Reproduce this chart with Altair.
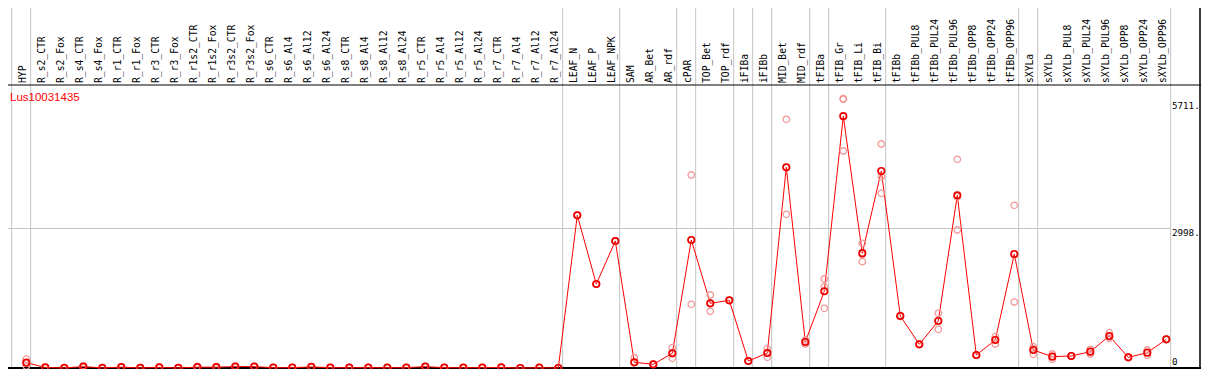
import altair as alt
import pandas as pd

samples = [
    "HYP",
    "R_s2_CTR", "R_s2_Fox", "R_s4_CTR", "R_s4_Fox", "R_r1_CTR", "R_r1_Fox", "R_r3_CTR", "R_r3_Fox",
    "R_r1s2_CTR", "R_r1s2_Fox", "R_r3s2_CTR", "R_r3s2_Fox",
    "R_s6_CTR", "R_s6_Al4", "R_s6_Al12", "R_s6_Al24",
    "R_s8_CTR", "R_s8_Al4", "R_s8_Al12", "R_s8_Al24",
    "R_r5_CTR", "R_r5_Al4", "R_r5_Al12", "R_r5_Al24",
    "R_r7_CTR", "R_r7_Al4", "R_r7_Al12", "R_r7_Al24",
    "LEAF_N", "LEAF_P", "LEAF_NPK",
    "SAM", "AR_Bet", "AR_rdf", "cPAR", "TOP_Bet", "TOP_rdf", "iFIBa", "iFIBb",
    "MID_Bet", "MID_rdf", "tFIBa", "tFIB_Gr", "tFIB_Li", "tFIB_Bi",
    "tFIBb", "tFIBb_PUL8", "tFIBb_PUL24", "tFIBb_PUL96", "tFIBb_OPP8", "tFIBb_OPP24", "tFIBb_OPP96",
    "sXYLa", "sXYLb", "sXYLb_PUL8", "sXYLb_PUL24", "sXYLb_PUL96", "sXYLb_OPP8", "sXYLb_OPP24", "sXYLb_OPP96",
]

means = [
    114,
    12, 2, 30, 2, 18, 2, 12, 2,
    18, 18, 30, 30,
    7, 7, 24, 7,
    7, 7, 7, 7,
    30, 7, 7, 7,
    12, 0, 7, 0,
    3282, 1805, 2729,
    122, 79, 316, 2751, 1390, 1455, 150, 322,
    4313, 559, 1650, 5412, 2468, 4234,
    1118, 509, 1010, 3711, 279, 602, 2450,
    387, 244, 258, 351, 688, 229, 330, 617,
]

rep_a = [
    190,
    18, 6, 48, 6, 24, 6, 18, 6,
    32, 30, 38, 36,
    12, 12, 30, 12,
    12, 12, 12, 12,
    36, 12, 12, 12,
    18, 4, 12, 4,
    3282, 1805, 2729,
    221, 79, 436, 4148, 1569, 1455, 150, 415,
    5345, 602, 1913, 5790, 2679, 4814,
    1130, 509, 1175, 4485, 279, 673, 3496,
    458, 301, 258, 401, 759, 229, 387, 617,
]

rep_b = [
    40,
    6, 0, 14, 0, 12, 0, 6, 0,
    8, 6, 22, 24,
    2, 2, 18, 2,
    2, 2, 2, 2,
    24, 2, 2, 2,
    6, 0, 2, 0,
    3282, 1805, 2729,
    114, 79, 208, 1369, 1219, 1455, 150, 230,
    3303, 516, 1283, 5775, 2285, 4112,
    1105, 509, 831, 2966, 279, 516, 1418,
    294, 186, 258, 301, 637, 229, 273, 617,
]

rep_c = [
    112,
    12, 2, 28, 2, 18, 2, 12, 2,
    14, 18, 30, 30,
    7, 7, 24, 7,
    7, 7, 7, 7,
    30, 7, 7, 7,
    12, 0, 7, 0,
    3282, 1805, 2729,
    122, 79, 316, 2751, 1390, 1455, 150, 322,
    4313, 559, 1748, 4664, 2440, 3754,
    1118, 509, 1024, 3682, 279, 617, 2436,
    409, 245, 258, 351, 668, 229, 330, 617,
]

group_ends = [-1, 0, 28, 31, 34, 35, 37, 38, 39, 41, 42, 45, 52, 53, 60]
y_ticks = [5711, 2998]
y_tick_labels = ["5711.", "2998."]
zero_tick = [0]
zero_label = ["0"]
gene = "Lus10031435"

W, H = 1193, 361
MONO = "DejaVu Sans Mono"

df = pd.DataFrame({"idx": list(range(len(samples))), "sample": samples, "mean": means})
reps = pd.DataFrame({
    "idx": list(range(len(samples))) * 3,
    "val": rep_a + rep_b + rep_c,
})
grid = pd.DataFrame({"pos": [g + 0.23 for g in group_ends]})
yt = pd.DataFrame({"v": y_ticks, "lab": y_tick_labels})
yz = pd.DataFrame({"v": zero_tick, "lab": zero_label})
hl = pd.DataFrame({"v": [2998]})
gl = pd.DataFrame({"t": [gene]})

xs = alt.Scale(domain=[-0.963, 61.826], nice=False, zero=False)
ys = alt.Scale(domain=[-21.5, 7737], nice=False, zero=False)

vgrid = alt.Chart(grid).mark_rule(color="#c4c4c4", strokeWidth=1).encode(
    x=alt.X("pos:Q", scale=xs, axis=None),
    y=alt.value(0), y2=alt.value(H),
)
hgrid = alt.Chart(hl).mark_rule(color="#c4c4c4", strokeWidth=1).encode(
    y=alt.Y("v:Q", scale=ys, axis=None),
    x=alt.value(0), x2=alt.value(1163),
)
header_line = alt.Chart(gl).mark_rule(color="black", strokeWidth=1.2).encode(
    y=alt.value(77), x=alt.value(0), x2=alt.value(W)
)
bottom_line = alt.Chart(gl).mark_rule(color="black", strokeWidth=2).encode(
    y=alt.value(360), x=alt.value(0), x2=alt.value(W)
)
right_line = alt.Chart(gl).mark_rule(color="black", strokeWidth=1.5).encode(
    x=alt.value(W - 1), y=alt.value(0), y2=alt.value(H)
)

header = alt.Chart(df).mark_text(
    angle=270, align="left", baseline="alphabetic", font=MONO, fontSize=9.7, color="black"
).encode(
    x=alt.X("idx:Q", scale=xs, axis=None),
    y=alt.value(75),
    text="sample:N",
)

line = alt.Chart(df).mark_line(color="#ff0000", strokeWidth=1).encode(
    x=alt.X("idx:Q", scale=xs, axis=None),
    y=alt.Y("mean:Q", scale=ys, axis=None),
)
rep_pts = alt.Chart(reps).mark_point(
    shape="circle", filled=False, size=42, strokeWidth=1.3, color="#f29a9a", opacity=1
).encode(
    x=alt.X("idx:Q", scale=xs, axis=None),
    y=alt.Y("val:Q", scale=ys, axis=None),
)
mean_pts = alt.Chart(df).mark_point(
    shape="circle", filled=False, size=42, strokeWidth=1.7, color="#ee0000", opacity=1
).encode(
    x=alt.X("idx:Q", scale=xs, axis=None),
    y=alt.Y("mean:Q", scale=ys, axis=None),
)

ylabels = alt.Chart(yt).mark_text(
    align="left", baseline="top", font=MONO, fontSize=9.2, color="black"
).encode(
    x=alt.value(1164),
    y=alt.Y("v:Q", scale=ys, axis=None),
    text="lab:N",
)
ylabel0 = alt.Chart(yz).mark_text(
    align="left", baseline="alphabetic", font=MONO, fontSize=9.2, color="black", dy=-3
).encode(
    x=alt.value(1164),
    y=alt.Y("v:Q", scale=ys, axis=None),
    text="lab:N",
)
gene_label = alt.Chart(gl).mark_text(
    align="left", baseline="alphabetic", font="Liberation Sans", fontSize=11.5, color="#ff0000"
).encode(
    x=alt.value(2), y=alt.value(93), text="t:N"
)

chart = alt.layer(
    vgrid, hgrid, header_line, bottom_line, right_line, header,
    line, rep_pts, mean_pts, ylabels, ylabel0, gene_label,
).properties(
    width=W, height=H,
    autosize=alt.AutoSizeParams(type="none"),
    padding=0,
    background="white",
).configure_view(stroke=None)

chart.save("out.html", embed_options={"renderer": "svg", "actions": False})
